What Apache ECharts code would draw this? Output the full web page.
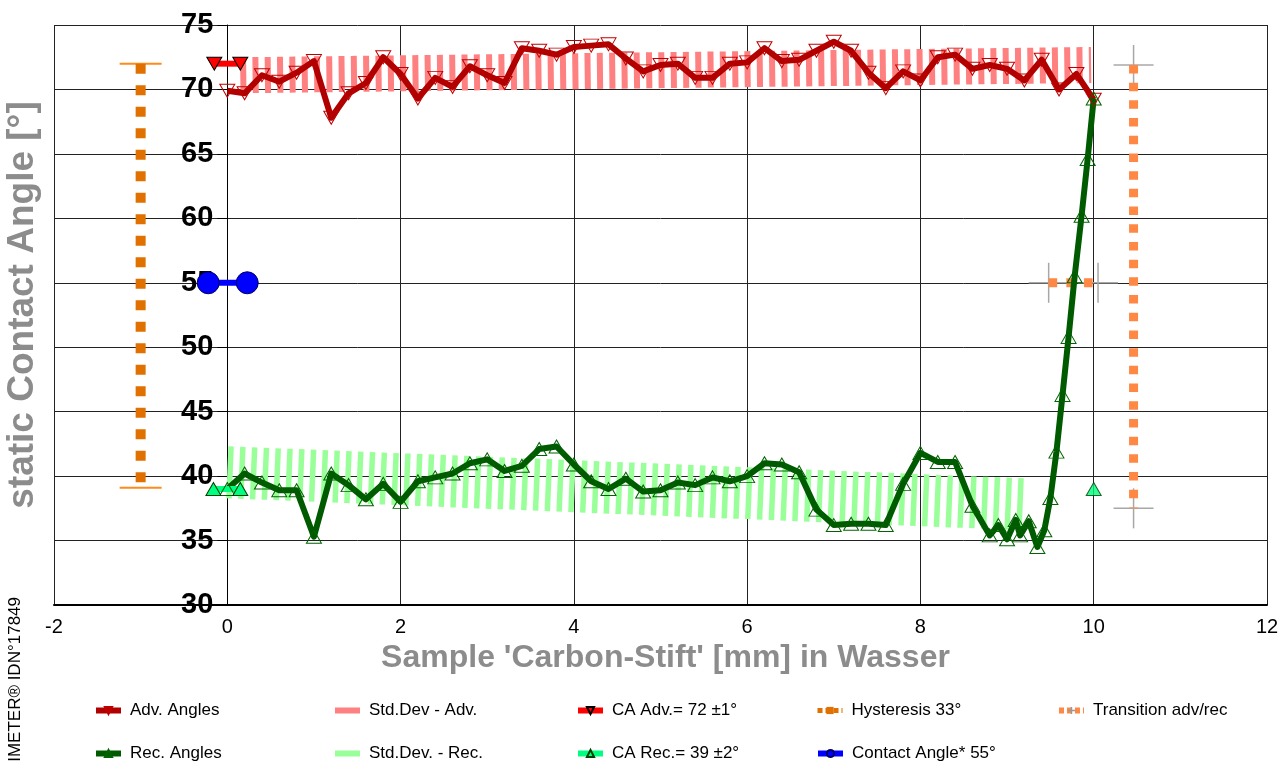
<!DOCTYPE html>
<html>
<head>
<meta charset="utf-8">
<script src="https://cdn.jsdelivr.net/npm/echarts@6/dist/echarts.min.js"></script>
<style>
html,body{margin:0;padding:0;background:#fff;}
#chart{width:1280px;height:765px;}
</style>
</head>
<body>
<div id="chart"></div>
<script>
// ---- data ----
const xTicks = [-2, 0, 2, 4, 6, 8, 10, 12];
const yTicks = [30, 35, 40, 45, 50, 55, 60, 65, 70, 75];

const advX = [0,0.2,0.4,0.6,0.8,1.0,1.2,1.4,1.6,1.8,2.0,2.2,2.4,2.6,2.8,3.0,3.2,3.4,3.6,3.8,4.0,4.2,4.4,4.6,4.8,5.0,5.2,5.4,5.6,5.8,6.0,6.2,6.4,6.6,6.8,7.0,7.2,7.4,7.6,7.8,8.0,8.2,8.4,8.6,8.8,9.0,9.2,9.4,9.6,9.8,10.0];
const advY = [69.9,69.7,71.1,70.6,71.3,72.2,67.8,69.7,70.5,72.5,71.2,69.3,70.9,70.2,71.8,71.1,70.5,73.2,73.0,72.7,73.3,73.4,73.5,72.4,71.4,71.9,72.0,70.9,70.9,72.0,72.1,73.2,72.2,72.3,73.0,73.7,73.0,71.3,70.1,71.4,70.7,72.5,72.7,71.6,71.9,71.6,70.7,72.3,70.0,71.2,69.2];

const recX = [0,0.2,0.4,0.6,0.8,1.0,1.2,1.4,1.6,1.8,2.0,2.2,2.4,2.6,2.8,3.0,3.2,3.4,3.6,3.8,4.0,4.2,4.4,4.6,4.8,5.0,5.2,5.4,5.6,5.8,6.0,6.2,6.4,6.6,6.8,7.0,7.2,7.4,7.6,7.8,8.0,8.2,8.4,8.6,8.8,8.9,9.0,9.1,9.15,9.25,9.35,9.43,9.5,9.57,9.64,9.71,9.78,9.86,9.93,10.0];
const recY = [39.0,40.2,39.5,38.9,38.9,35.3,40.2,39.3,38.2,39.4,38.0,39.6,39.9,40.2,41.0,41.3,40.4,40.8,42.1,42.3,40.9,39.6,39.0,39.8,38.8,38.9,39.5,39.3,39.9,39.6,40.0,41.0,40.9,40.3,37.4,36.2,36.3,36.3,36.2,39.4,41.8,41.1,41.1,37.7,35.4,36.2,35.1,36.6,35.4,36.5,34.5,35.8,38.3,41.9,46.3,50.8,55.5,60.2,64.6,69.3];

const advBandX = [0.15, 9.97];
const advBandY = [71.1, 71.9];
const recBandX = [0.0, 9.24];
const recBandY = [40.3, 37.8];

const caAdvX = [-0.15, 0.15];
const caAdvY = [72, 72];
const caRecX = [-0.16, 0.15];
const caRecY = [39, 39];
const caRecEndX = [10.0];
const caRecEndY = [39];
const contactX = [-0.22, 0.23];
const contactY = [55, 55];

const hystX = [-1, -1];
const hystY = [72, 39.1];
const transVX = [10.46, 10.46];
const transVY = [71.9, 37.5];
const transHX = [9.48, 10.05];
const transHY = [55, 55];

const names = {
  adv: 'Adv. Angles', advSd: 'Std.Dev - Adv.', caAdv: 'CA Adv.= 72 ±1°', hyst: 'Hysteresis 33°', trans: 'Transition adv/rec',
  rec: 'Rec. Angles', recSd: 'Std.Dev. - Rec.', caRec: 'CA Rec.= 39 ±2°', contact: 'Contact Angle* 55°'
};

// ---- helpers ----
const zip = (xs, ys) => xs.map((x, i) => [x, ys[i]]);

const chart = echarts.init(document.getElementById('chart'), null, {renderer: 'canvas'});

function capRenderer(half, stroke, withVertical) {
  return function (params, api) {
    const p = api.coord([api.value(0), api.value(1)]);
    const children = [{
      type: 'line', shape: {x1: p[0] - half, y1: p[1], x2: p[0] + half, y2: p[1]},
      style: {stroke: stroke, lineWidth: withVertical ? 1.5 : 2}
    }];
    if (withVertical) {
      children.push({
        type: 'line', shape: {x1: p[0], y1: p[1] - half, x2: p[0], y2: p[1] + half},
        style: {stroke: stroke, lineWidth: 1.5}
      });
    }
    return {type: 'group', children: children};
  };
}

const GRID_LEFT = 54, GRID_RIGHT = 13;
const plotWidth = 1280 - GRID_LEFT - GRID_RIGHT;
const xMin = -2, xMax = 12;
// y axis drawn where x = 0
const yAxisOffset = -plotWidth * (0 - xMin) / (xMax - xMin);

const crossPath = 'path://M4,0h2v4h4v2h-4v4h-2v-4h-4v-2h4z';
const legendFont = {fontFamily: "'Liberation Sans', Arial, sans-serif", fontSize: 17, color: '#000', padding: [0, 0, 0, 4]};
const legendLayout = [
  {name: names.adv, left: 93, top: 702},
  {name: names.advSd, left: 335, top: 702, icon: 'rect', h: 6},
  {name: names.caAdv, left: 575, top: 702},
  {name: names.hyst, left: 815, top: 702, lineStyle: {width: 5, type: [5, 3]}},
  {name: names.trans, left: 1056, top: 702, lineStyle: {width: 6, type: [5, 3]}},
  {name: names.rec, left: 93, top: 745},
  {name: names.recSd, left: 335, top: 745, icon: 'rect', h: 6},
  {name: names.caRec, left: 575, top: 745},
  {name: names.contact, left: 815, top: 745}
];

const option = {
  animation: false,
  backgroundColor: '#fff',
  grid: {left: GRID_LEFT, right: GRID_RIGHT, top: 25, bottom: 160, containLabel: false, outerBoundsMode: 'none'},
  xAxis: {
    type: 'value', min: xMin, max: xMax, interval: 2,
    name: "Sample 'Carbon-Stift' [mm] in Wasser",
    nameLocation: 'middle', nameGap: 37,
    nameTextStyle: {fontFamily: 'Liberation Sans', fontWeight: 'bold', fontSize: 32, color: '#8c8c8c', padding: [0, 0, 0, 10]},
    axisLine: {onZero: false, lineStyle: {color: '#000', width: 2}},
    axisTick: {show: false},
    axisLabel: {fontFamily: 'Liberation Sans', fontSize: 20, color: '#000', margin: 12},
    splitLine: {show: true, lineStyle: {color: '#222', width: 1}}
  },
  yAxis: {
    type: 'value', min: 30, max: 75, interval: 5,
    position: 'left', offset: yAxisOffset,
    name: 'static Contact Angle [°]',
    nameLocation: 'middle', nameGap: 186,
    nameTextStyle: {fontFamily: 'Liberation Sans', fontWeight: 'bold', fontSize: 37, color: '#8c8c8c', padding: [0, 0, 0, 20]},
    axisLine: {show: true, onZero: false, lineStyle: {color: '#000', width: 1}},
    axisTick: {show: true, length: 10, lineStyle: {color: '#000'}},
    axisLabel: {fontFamily: 'Liberation Sans', fontWeight: 'bold', fontSize: 29, color: '#000', margin: 14},
    splitLine: {show: true, lineStyle: {color: '#222', width: 1}}
  },
  legend: legendLayout.map(l => ({
    data: [l.icon ? {name: l.name, icon: l.icon} : l.name],
    left: l.left, top: l.top, itemWidth: 25, itemHeight: l.h || 9,
    selectedMode: false, textStyle: legendFont, padding: 0,
    lineStyle: l.lineStyle || {width: 6}
  })),
  graphic: [{
    type: 'text', x: 15, y: 597, rotation: Math.PI / 2,
    style: {text: 'IMETER® IDN°17849', fontFamily: 'Liberation Sans', fontSize: 17, fill: '#000', align: 'right', verticalAlign: 'middle'}
  }],
  series: [
    {
      name: names.advSd, type: 'line', data: zip(advBandX, advBandY), symbol: 'none', silent: true,
      lineStyle: {color: '#ff8080', width: 36, type: [6, 6.3], cap: 'butt'}, itemStyle: {color: '#ff8080'}
    },
    {
      name: names.recSd, type: 'line', data: zip(recBandX, recBandY), symbol: 'none', silent: true,
      lineStyle: {color: '#99ff99', width: 52, type: [5.5, 6.3], cap: 'butt'}, itemStyle: {color: '#99ff99'}
    },
    {
      name: names.hyst, type: 'line', data: zip(hystX, hystY), symbol: 'rect', symbolSize: 6, showSymbol: false,
      lineStyle: {color: '#e07000', width: 10, type: [10, 11.5]}, itemStyle: {color: '#e07000'}
    },
    {
      name: 'hystCaps', type: 'custom', data: zip(hystX, hystY), encode: {x: 0, y: 1},
      renderItem: capRenderer(21, '#ff8c1a', false), silent: true
    },
    {
      name: names.trans, type: 'line', data: zip(transVX, transVY), symbol: crossPath, symbolSize: 11, showSymbol: false,
      lineStyle: {color: '#ff8844', width: 9, type: [8.5, 9.2]}, itemStyle: {color: '#999999'}
    },
    {
      name: 'transH', type: 'line', data: zip(transHX, transHY), symbol: 'none',
      lineStyle: {color: '#ff8844', width: 9, type: [8.5, 9.2]}
    },
    {
      name: 'transCaps', type: 'custom', data: zip(transVX, transVY).concat(zip(transHX, transHY)), encode: {x: 0, y: 1},
      renderItem: capRenderer(20, '#a8a8a8', true), silent: true
    },
    {
      name: names.adv, type: 'line', data: zip(advX, advY),
      symbol: 'triangle', symbolRotate: 180, symbolSize: [15, 13], showAllSymbol: true,
      lineStyle: {color: '#b00000', width: 6, join: 'round'},
      itemStyle: {color: 'rgba(0,0,0,0)', borderColor: '#c00000', borderWidth: 1}
    },
    {
      name: names.rec, type: 'line', data: zip(recX, recY),
      symbol: 'triangle', symbolSize: [15, 13], showAllSymbol: true,
      lineStyle: {color: '#005a00', width: 6, join: 'round'},
      itemStyle: {color: 'rgba(0,0,0,0)', borderColor: '#006400', borderWidth: 1}
    },
    {
      name: names.caAdv, type: 'line', data: zip(caAdvX, caAdvY),
      symbol: 'triangle', symbolRotate: 180, symbolSize: [15, 13],
      lineStyle: {color: '#ff0000', width: 6},
      itemStyle: {color: '#ff0000', borderColor: '#000', borderWidth: 1}
    },
    {
      name: names.caRec, type: 'line', data: zip(caRecX, caRecY),
      symbol: 'triangle', symbolSize: [15, 13],
      lineStyle: {color: '#00ff80', width: 6},
      itemStyle: {color: '#00ff80', borderColor: '#004000', borderWidth: 1}
    },
    {
      name: 'caRecEnd', type: 'scatter', data: zip(caRecEndX, caRecEndY),
      symbol: 'triangle', symbolSize: [15, 13],
      itemStyle: {color: '#00ff80', borderColor: '#004000', borderWidth: 1}
    },
    {
      name: names.contact, type: 'line', data: zip(contactX, contactY),
      symbol: 'circle', symbolSize: 22,
      lineStyle: {color: '#0000ff', width: 6},
      itemStyle: {color: '#0000ff', borderColor: '#000060', borderWidth: 1}
    }
  ]
};
chart.setOption(option);
</script>
</body>
</html>
